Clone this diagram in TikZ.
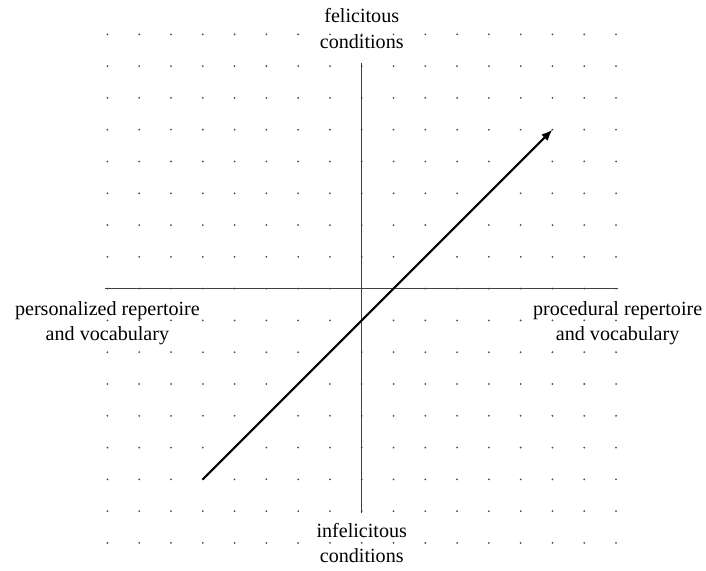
\documentclass[tikz,border=0pt]{standalone}
\usepackage{fontspec}
\setmainfont{Liberation Serif}
\usetikzlibrary{arrows.meta}

\begin{document}
\begin{tikzpicture}[x=0.5cm,y=0.5cm,font=\fontsize{9}{11.5}\selectfont]
\useasboundingbox (-11.38,-8.86) rectangle (10.83,9.08);
% dot grid
\foreach \x in {-8,...,8}
  \foreach \y in {-8,...,8}
    \fill[black!70] (\x,\y) circle (0.45pt);
% axes
\coordinate (left) at (-8.08,0);
\coordinate (right) at (8.07,0);
\coordinate (top) at (0,7.1);
\coordinate (bot) at (0,-7.05);
\draw[black!75,line width=0.6pt] (left)--(right) (bot)--(top);
% diagonal arrow
\coordinate (from) at (-5,-6);
\coordinate (to) at (6,5);
\draw[line width=0.9pt,-{Latex[length=5pt,width=4pt]}] (from)--(to);
% axis labels
\node[align=center] (felic) at (0,8.18) {felicitous\\conditions};
\node[align=center] (infelic) at (0,-8.0) {infelicitous\\conditions};
\node[align=center] (person) at (-8.0,-1.09) {personalized repertoire\\and vocabulary};
\node[align=center] (proced) at (8.05,-1.09) {procedural repertoire\\and vocabulary};
\end{tikzpicture}
\end{document}
